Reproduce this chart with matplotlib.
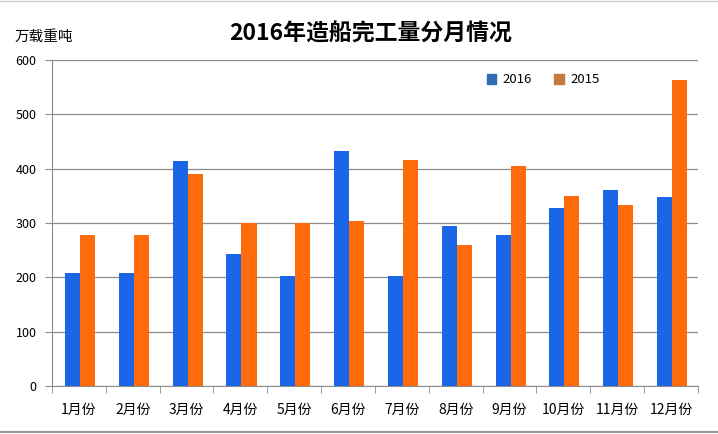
import matplotlib
matplotlib.use("Agg")
import matplotlib.pyplot as plt
import numpy as np
from matplotlib.patches import Patch

plt.rcParams['font.family'] = ['Noto Sans CJK SC', 'DejaVu Sans']

months = ["1月份", "2月份", "3月份", "4月份", "5月份", "6月份",
          "7月份", "8月份", "9月份", "10月份", "11月份", "12月份"]
y2016 = [208, 208, 414, 243, 202, 432, 202, 294, 278, 328, 361, 348]
y2015 = [278, 278, 390, 300, 300, 304, 416, 260, 405, 350, 333, 563]
yticks = [0, 100, 200, 300, 400, 500, 600]

c16 = "#1A66E6"
c15 = "#FF6A0A"

fig = plt.figure(figsize=(7.18, 4.34), dpi=100)
ax = fig.add_axes([0.0724, 0.1106, 0.8996, 0.7512])

x = np.arange(len(months))
w = 0.28
ax.bar(x - w / 2 + 0.02, y2016, width=w, color=c16, zorder=3)
ax.bar(x + w / 2 + 0.02, y2015, width=w, color=c15, zorder=3)

ax.set_xlim(-0.5, len(months) - 0.5)
ax.set_ylim(0, 600)
ax.set_yticks(yticks)
ax.set_yticklabels([str(v) for v in yticks], fontsize=9)
ax.yaxis.grid(True, color="#8C8C8C", linewidth=0.9, zorder=0)
ax.set_axisbelow(True)

ax.set_xticks(x)
ax.set_xticklabels(months, fontsize=10)
ax.tick_params(axis="x", length=0, pad=12)
ax.set_xticks(np.arange(len(months) + 1) - 0.5, minor=True)
ax.tick_params(axis="x", which="minor", length=5, color="#8C8C8C", direction="out")
ax.tick_params(axis="y", length=5, color="#8C8C8C", pad=6)

for s in ["top", "right"]:
    ax.spines[s].set_visible(False)
for s in ["left", "bottom"]:
    ax.spines[s].set_color("#8C8C8C")

handles = [Patch(color="#2F6DB5", label="2016"), Patch(color="#C47A3F", label="2015")]
ax.legend(handles=handles, loc="upper center", bbox_to_anchor=(0.76, 0.995), ncol=2,
          frameon=False, fontsize=9.5, handlelength=0.75, handleheight=0.75,
          columnspacing=1.7, handletextpad=0.45)

fig.text(0.516, 0.922, "2016年造船完工量分月情况", ha="center", va="center",
         fontsize=16.5, fontweight="bold")
fig.text(0.02, 0.915, "万载重吨", ha="left", va="center", fontsize=10.5)

fig.add_artist(plt.Line2D([0, 1], [0.004, 0.004], color="#999999", linewidth=1.5))
fig.add_artist(plt.Line2D([0, 1], [0.997, 0.997], color="#cccccc", linewidth=1.0))

fig.savefig("out.png", dpi=100)
